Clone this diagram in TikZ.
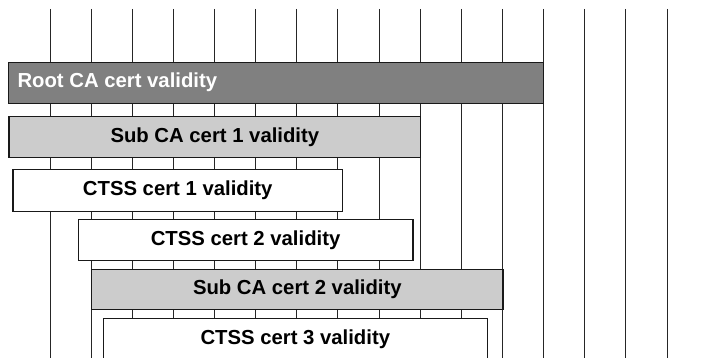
\documentclass[tikz,border=0pt]{standalone}
\usepackage{fontspec}
\setmainfont{Liberation Sans}
\begin{document}
\begin{tikzpicture}[x=1pt,y=-1pt,
  grid/.style={line width=0.9pt,draw=black!85},
  bar/.style={draw=black!90,line width=1.2pt,inner sep=0pt,
    font=\bfseries\fontsize{20.3}{24}\selectfont},
  rootbar/.style={bar,fill=black!50,text=white},
  subbar/.style={bar,fill=black!20},
  ctssbar/.style={bar,fill=white}]
\useasboundingbox (0,0) rectangle (702,358);
% time grid
\foreach \i in {0,...,15}
  \draw[grid] ({50+41.13*\i},9) -- ({50+41.13*\i},360);
% validity periods
\draw[rootbar] (8.3,62.3) rectangle (543.6,103.7);
\node[anchor=base west,text=white,font=\bfseries\fontsize{20.3}{24}\selectfont,inner sep=0pt]
  (root) at (17.3,87.3) {Root CA cert validity};
\node[subbar,minimum width=411.9pt,minimum height=40.7pt,anchor=north west]
  (sub1) at (8.3,116) {Sub CA cert 1 validity};
\node[ctssbar,minimum width=329.7pt,minimum height=41.4pt,anchor=north west]
  (ctss1) at (12.3,169.3) {CTSS cert 1 validity};
\node[ctssbar,minimum width=334.6pt,minimum height=41.3pt,anchor=north west]
  (ctss2) at (77.7,219) {CTSS cert 2 validity};
\node[subbar,minimum width=411.3pt,minimum height=40.3pt,anchor=north west]
  (sub2) at (91.1,269) {Sub CA cert 2 validity};
\node[ctssbar,minimum width=384pt,minimum height=41.5pt,anchor=north west]
  (ctss3) at (102.7,317.7) {CTSS cert 3 validity};
\end{tikzpicture}
\end{document}
